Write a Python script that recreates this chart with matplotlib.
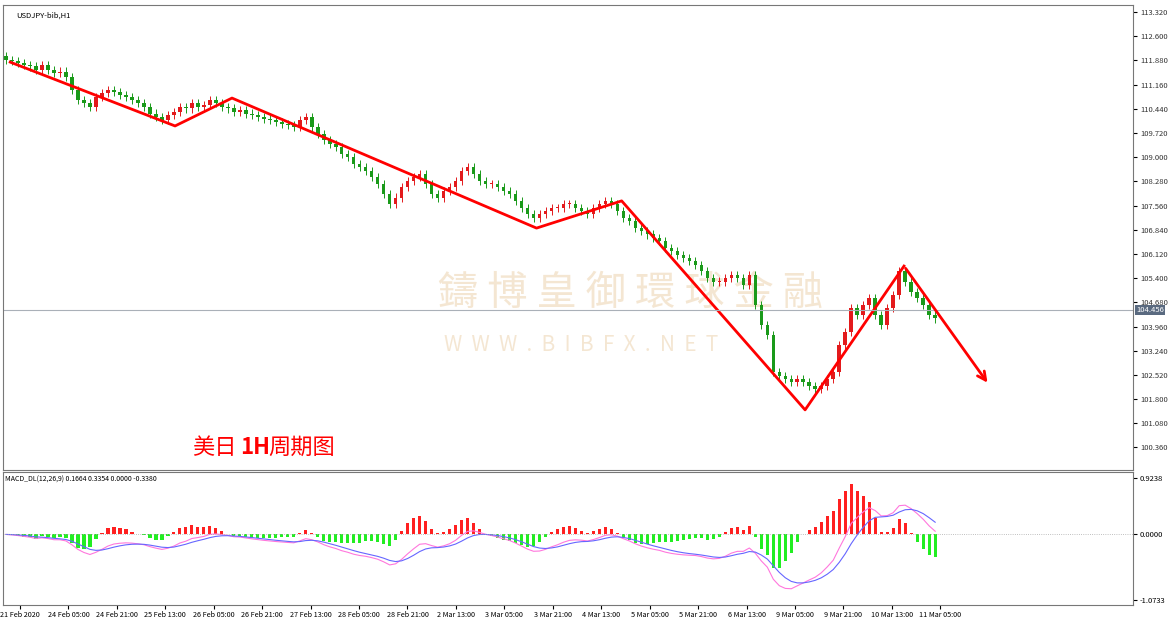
import numpy as np
import matplotlib.pyplot as plt

plt.rcParams['font.family'] = ['Noto Sans CJK SC', 'DejaVu Sans']

# closes (one bar ~ 2 hours)
closes = [
    111.9, 111.85, 111.8, 111.75, 111.7, 111.6, 111.75, 111.6, 111.5, 111.55, 111.4,
    111.0, 110.7, 110.6, 110.5, 110.8, 110.9, 111.0, 110.95, 110.85, 110.8,
    110.7, 110.6, 110.5, 110.3, 110.2, 110.1, 110.25, 110.35, 110.5, 110.45,
    110.6, 110.5, 110.55, 110.7, 110.6, 110.5, 110.45, 110.35, 110.4, 110.3,
    110.25, 110.2, 110.15, 110.1, 110.05, 110.0, 109.95, 109.9, 110.1, 110.2,
    109.9, 109.7, 109.5, 109.4, 109.3, 109.1, 109.0, 108.8, 108.7, 108.6,
    108.4, 108.2, 107.9, 107.6, 107.8, 108.1, 108.3, 108.4, 108.5, 108.2,
    107.9, 107.8, 108.0, 108.1, 108.3, 108.6, 108.7, 108.5, 108.3, 108.2,
    108.2, 108.1, 108.0, 107.9, 107.7, 107.5, 107.3, 107.2, 107.3, 107.4,
    107.5, 107.5, 107.6, 107.6, 107.5, 107.4, 107.3, 107.5, 107.6, 107.7,
    107.6, 107.4, 107.2, 107.1, 106.9, 106.8, 106.7, 106.6, 106.5, 106.3,
    106.2, 106.1, 106.0, 105.9, 105.8, 105.6, 105.4, 105.3, 105.3, 105.4,
    105.5, 105.4, 105.2, 105.5, 104.6, 104.0, 103.7, 102.6, 102.5, 102.4,
    102.3, 102.4, 102.3, 102.2, 102.1, 102.2, 102.4, 102.6, 103.4, 103.8,
    104.5, 104.3, 104.6, 104.8, 104.3, 104.0, 104.5, 104.9, 105.6, 105.3,
    105.0, 104.8, 104.6, 104.3, 104.2,
]
first_open = 112.0

zig_idx = [0.7, 28.2, 37.7, 88.5, 102.7, 133.3, 149.8]
zig_price = [111.83, 109.93, 110.76, 106.89, 107.70, 101.48, 105.76]
arrow_end = (164.0, 102.22)

price_ticks = [113.32, 112.60, 111.88, 111.16, 110.44, 109.72, 109.00, 108.28,
               107.56, 106.84, 106.12, 105.40, 104.68, 103.96, 103.24, 102.52,
               101.80, 101.08, 100.36]
last_price = 104.456

x_labels = ['21 Feb 2020', '24 Feb 05:00', '24 Feb 21:00', '25 Feb 13:00', '26 Feb 05:00',
            '26 Feb 21:00', '27 Feb 13:00', '28 Feb 05:00', '28 Feb 21:00', '2 Mar 13:00',
            '3 Mar 05:00', '3 Mar 21:00', '4 Mar 13:00', '5 Mar 05:00', '5 Mar 21:00',
            '6 Mar 13:00', '9 Mar 05:00', '9 Mar 21:00', '10 Mar 13:00', '11 Mar 05:00']

W, H = 1170, 618
fig = plt.figure(figsize=(W / 100, H / 100), dpi=100)
ax = fig.add_axes([3 / W, 1 - 470 / H, 1130 / W, 465 / H])
ax2 = fig.add_axes([3 / W, 1 - 605 / H, 1130 / W, 133 / H], sharex=ax)

c = np.array(closes)
o = np.r_[first_open, c[:-1]]
idx = np.arange(len(c))
for i in idx:
    up = c[i] >= o[i]
    col = '#e31a1c' if up else '#1a9a1a'
    lo, hi = min(o[i], c[i]), max(o[i], c[i])
    ax.vlines(i, lo - 0.12, hi + 0.12, color=col, lw=0.7)
    ax.bar(i, max(hi - lo, 0.03), bottom=lo, width=0.6, color=col)

ax.plot(zig_idx, zig_price, color='red', lw=2)
ax.annotate('', xy=arrow_end, xytext=(zig_idx[-1], zig_price[-1]),
            arrowprops=dict(arrowstyle='->', color='red', lw=2, mutation_scale=15))
ax.axhline(last_price, color='#aab0b8', lw=0.8)

ax.set_xlim(-0.5, 188)
ax.set_ylim(99.69, 113.53)
ax.yaxis.tick_right()
ax.set_yticks(price_ticks)
ax.set_yticklabels([f'{t:.3f}' for t in price_ticks], fontsize=5.5, color='#333333')
ax.tick_params(axis='y', length=3, pad=2)
ax.tick_params(axis='x', bottom=False, labelbottom=False)
ax.text(1.003, (last_price - 99.69) / (113.53 - 99.69), f'{last_price:.3f}',
        transform=ax.transAxes, fontsize=5.5, color='white', va='center',
        bbox=dict(boxstyle='square,pad=0.15', fc='#5a6a80', ec='none'))

ax.text(0.012, 0.985, 'USDJPY-bib,H1', transform=ax.transAxes, fontsize=5.5, va='top')
ax.text(0.167, 0.035, '美日', transform=ax.transAxes, fontsize=16, color='red')
ax.text(0.2095, 0.035, '1H', transform=ax.transAxes, fontsize=16, color='red', fontweight='bold')
ax.text(0.2345, 0.035, '周期图', transform=ax.transAxes, fontsize=16, color='red')
ax.text(0.385, 0.355, '鑄 博 皇 御 環 球 金 融', transform=ax.transAxes, fontsize=29,
        color='#f0dcc0', alpha=0.7, zorder=0)
ax.text(0.39, 0.255, 'W  W  W  .  B  I  B  F  X  .  N  E  T', transform=ax.transAxes,
        fontsize=15, color='#f0dcc0', alpha=0.7, zorder=0)

# MACD
def ema(x, n):
    a = 2 / (n + 1)
    out = np.empty_like(x)
    out[0] = x[0]
    for k in range(1, len(x)):
        out[k] = a * x[k] + (1 - a) * out[k - 1]
    return out

main = ema(c, 6) - ema(c, 13)
sig = ema(main, 5)
hist = (main - sig) * 2.5
ax2.bar(idx, hist, width=0.55, color=np.where(hist >= 0, '#ff2020', '#22ee22'))
ax2.plot(idx, main, color='#ff77dd', lw=0.8)
ax2.plot(idx, sig, color='#6666ff', lw=0.8)
ax2.axhline(0, color='#aaaaaa', lw=0.6, ls=':')
ax2.set_ylim(-1.156, 1.023)
ax2.yaxis.tick_right()
ax2.set_yticks([0.9238, 0.0, -1.0733])
ax2.set_yticklabels(['0.9238', '0.0000', '-1.0733'], fontsize=5.5)
ax2.tick_params(axis='y', length=3, pad=2)
ax2.text(0.002, 0.97, 'MACD_DL(12,26,9) 0.1664 0.3354 0.0000 -0.3380',
         transform=ax2.transAxes, fontsize=5, va='top')
xt = [2.33 + 8.08 * k for k in range(len(x_labels))]
ax2.set_xticks(xt)
ax2.set_xticklabels(x_labels, fontsize=5.2)
ax2.tick_params(axis='x', length=3, pad=1)

for a in (ax, ax2):
    for s in a.spines.values():
        s.set_color('#777777')
        s.set_linewidth(0.8)

fig.savefig('out.png', dpi=100, facecolor='white')
